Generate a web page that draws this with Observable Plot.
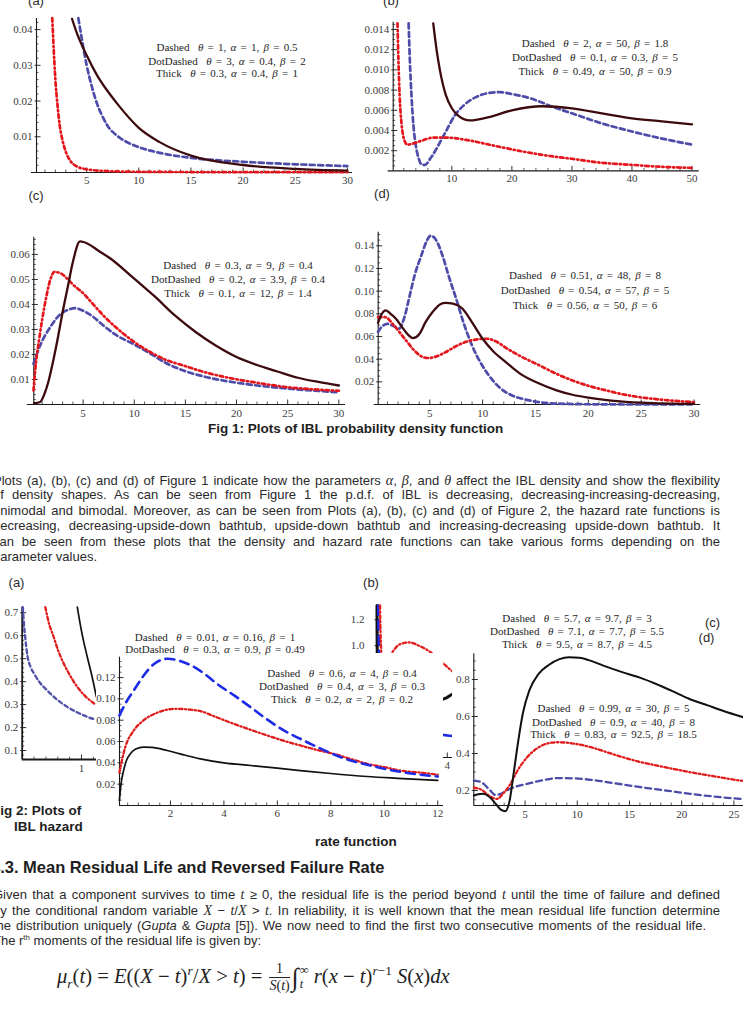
<!DOCTYPE html>
<html>
<head>
<meta charset="utf-8">
<script src="https://cdn.jsdelivr.net/npm/d3@7"></script>
<script src="https://cdn.jsdelivr.net/npm/@observablehq/plot@0.6"></script>
<style>
  html, body { margin: 0; padding: 0; background: #fff; }
  #page { position: relative; width: 743px; height: 1015px; overflow: hidden; background: #fff;
          font-family: "Liberation Sans", Arial, sans-serif; color: #262626; }
  .box { position: absolute; }
  .leg { position: absolute; transform: translate(-50%, -50%); white-space: nowrap;
         font-family: "Liberation Serif", "Times New Roman", serif; font-size: 11px; color: #1e1e1e; word-spacing: 1.5px; }
  .lab { position: absolute; transform: translate(-50%, -50%); font-size: 13px; color: #2a2a2a; white-space: nowrap; }
  .para { position: absolute; transform-origin: 0 50%; white-space: nowrap; color: #2a2a2a; }
  .para i.g { font-family: "Liberation Serif", serif; font-size: 1.08em; }
  .para sup { font-size: 0.6em; vertical-align: 0.6em; line-height: 0; }
  .cap { position: absolute; transform: translate(0, -50%); font-weight: bold; font-size: 13.5px; white-space: nowrap; color: #1e1e1e; }
  .head { position: absolute; transform: translate(0, -50%); font-weight: bold; font-size: 16.5px; white-space: nowrap; color: #1e1e1e; }
  #formula { position: absolute; transform: translate(0, -50%); white-space: nowrap;
             font-family: "Liberation Serif", serif; font-size: 20px; color: #222; }
  #formula sub, #formula sup { font-size: 0.65em; line-height: 0; }
  .frac { display: inline-block; vertical-align: middle; text-align: center; font-size: 0.68em; margin: 0 2px; }
  .frac .num { display: block; border-bottom: 1px solid #222; padding: 0 1px; line-height: 1.15em; }
  .frac .den { display: block; line-height: 1.2em; }
  .int { font-size: 1.25em; display: inline-block; vertical-align: middle; }
  .lims { display: inline-block; vertical-align: middle; font-size: 0.6em; line-height: 1.1em; margin-left: 1px; }
  .lims span { display: block; }
</style>
</head>
<body>
<div id="page"></div>
<script>
// ---------------- Fig. 1: IBL density curves, [x, f(x)] ----------------
// (a)
const fig1aDashed = [[4.2,0.0432],[4.5,0.038],[5,0.030],[5.5,0.024],[6,0.0192],[6.5,0.0158],[7,0.0131],[8,0.0101],[9,0.0083],[10,0.0071],[12,0.0055],[15,0.0041],[20,0.0030],[25,0.0023],[30,0.0018]];
const fig1aDotDashed = [[1.7,0.0432],[1.8,0.037],[1.9,0.031],[2.0,0.026],[2.2,0.019],[2.4,0.0135],[2.7,0.0088],[3.0,0.0058],[3.5,0.003],[4,0.0018],[5,0.0009],[7,0.0004],[10,0.0002],[20,0.0001],[30,0.0001]];
const fig1aThick = [[3.6,0.0430],[4,0.0395],[5,0.0328],[6,0.0272],[7,0.0228],[8,0.0190],[10,0.0125],[12,0.0085],[15,0.0047],[20,0.0021],[25,0.0010],[30,0.0005]];
// (b)
const fig1bDashed = [[2.8,0.0146],[3.0,0.011],[3.3,0.0072],[3.6,0.0045],[4,0.0025],[4.5,0.0012],[5,0.0006],[5.5,0.0006],[6.5,0.0013],[8,0.0028],[9,0.0039],[10.5,0.0055],[12,0.0065],[14,0.0073],[16,0.0077],[18,0.0078],[20,0.0076],[23,0.0072],[27,0.0063],[30,0.0057],[35,0.0047],[40,0.0039],[45,0.0032],[50,0.0026]];
const fig1bDotDashed = [[0.95,0.0146],[1.1,0.011],[1.3,0.0075],[1.6,0.0048],[2.0,0.0032],[2.6,0.0026],[3.5,0.0027],[5,0.003],[7,0.0033],[9,0.0033],[13,0.003],[17,0.0025],[22,0.0019],[26,0.0015],[30,0.0012],[35,0.0008],[40,0.0006],[45,0.0004],[50,0.0003]];
const fig1bThick = [[6.9,0.0146],[7.5,0.0118],[8,0.0100],[9,0.0075],[10,0.0062],[11,0.0055],[13,0.0050],[16,0.0053],[20,0.0060],[25,0.0064],[30,0.0062],[35,0.0057],[40,0.0052],[45,0.0049],[50,0.0046]];
// (c)
const fig1cDashed = [[0.15,0.0163],[0.8,0.0236],[1.8,0.031],[2.8,0.0362],[3.5,0.0378],[4.2,0.0385],[5,0.0375],[6,0.035],[7,0.0315],[8.3,0.0276],[10,0.024],[11.6,0.0203],[13,0.0168],[14.8,0.0136],[17,0.011],[19.7,0.0089],[22,0.0076],[24.6,0.0065],[27,0.0057],[30,0.0049]];
const fig1cDotDashed = [[0.15,0.0056],[0.4,0.017],[0.7,0.026],[1.0,0.034],[1.4,0.043],[1.8,0.050],[2.2,0.053],[2.8,0.0525],[3.4,0.0505],[4,0.048],[5,0.0445],[6,0.040],[7,0.0355],[8,0.0316],[10,0.025],[11.6,0.0209],[13,0.018],[14.8,0.0156],[17,0.0128],[19.7,0.0103],[22,0.0087],[24.6,0.0071],[27,0.0062],[30,0.0055]];
const fig1cThick = [[0.2,0.0005],[0.8,0.001],[1.2,0.004],[1.6,0.009],[2,0.016],[2.5,0.026],[3,0.037],[3.5,0.047],[4,0.057],[4.7,0.0652],[5.5,0.0642],[6.5,0.0615],[7.7,0.0583],[10,0.0503],[12,0.0432],[14,0.0355],[16,0.029],[18,0.0235],[20,0.019],[22,0.0158],[24,0.0132],[26,0.0107],[28,0.009],[30,0.0076]];
// (d)
const fig1dDashed = [[0.1,0.064],[0.5,0.069],[1.0,0.0712],[1.6,0.069],[2.1,0.067],[2.6,0.077],[3.1,0.096],[3.6,0.115],[4.2,0.1315],[4.7,0.144],[5.1,0.149],[5.6,0.145],[6.2,0.1315],[6.8,0.113],[7.5,0.0932],[8.2,0.072],[9.0,0.052],[9.8,0.037],[10.6,0.0256],[11.6,0.015],[12.8,0.0079],[14,0.0045],[15.4,0.002],[17,0.0008],[20,0.0002],[25,0],[30,0]];
const fig1dDotDashed = [[0.1,0.077],[0.8,0.077],[1.5,0.071],[2.2,0.063],[2.8,0.056],[3.5,0.048],[4.2,0.0425],[4.8,0.041],[5.5,0.042],[6.5,0.0462],[7.5,0.0515],[8.5,0.0555],[9.5,0.0575],[10.4,0.058],[11.3,0.0555],[12.2,0.050],[13.5,0.043],[15.4,0.0344],[17,0.027],[18.5,0.0212],[20,0.0165],[21.7,0.0124],[23,0.0095],[24.8,0.0065],[27,0.0042],[30,0.002]];
const fig1dThick = [[0.1,0.072],[0.4,0.079],[0.85,0.083],[1.3,0.080],[1.8,0.0757],[2.4,0.068],[3.0,0.061],[3.4,0.0585],[4.0,0.062],[4.6,0.0726],[5.3,0.082],[6.0,0.0885],[6.5,0.0897],[7.2,0.089],[8.1,0.0845],[9.0,0.0725],[10.0,0.058],[11,0.047],[12.2,0.0374],[13.5,0.0275],[15.4,0.0183],[17,0.0125],[18.5,0.0086],[20,0.006],[23,0.0027],[26,0.0012],[30,0.0005]];

// ---------------- Fig. 2: IBL hazard rate curves, [x, h(x)] ----------------
// (a) small inset panel
const fig2aDashed = [[0.01,0.724],[0.03,0.65],[0.05,0.595],[0.09,0.51],[0.14,0.465],[0.2,0.435],[0.3,0.395],[0.42,0.362],[0.55,0.33],[0.76,0.29],[0.9,0.27],[1.04,0.253],[1.24,0.234]];
const fig2aDotDashed = [[0.39,0.724],[0.45,0.655],[0.53,0.595],[0.6,0.54],[0.7,0.479],[0.8,0.43],[0.93,0.377],[1.05,0.34],[1.15,0.317],[1.24,0.30]];
const fig2aThick = [[0.93,0.724],[1.0,0.62],[1.1,0.505],[1.18,0.42],[1.25,0.335]];
// (b)
const fig2bDashed = [[0.1,1.31],[0.12,1.1],[0.15,0.94],[0.25,0.75],[1,0.5],[2,0.38],[3,0.33],[4,0.308],[4.75,0.3]];
const fig2bDotDashed = [[0.2,1.31],[0.23,1.1],[0.28,0.94],[0.45,0.86],[0.89,0.95],[1.3,1.01],[1.83,1.025],[2.4,1.0],[3.05,0.95],[3.5,0.9],[4.0,0.835],[4.4,0.79],[4.75,0.75]];
const fig2bThick = [[0.03,1.31],[0.035,1.1],[0.045,0.94],[0.1,0.82],[0.3,0.72],[1,0.6],[2,0.56],[3,0.57],[3.95,0.598],[4.3,0.628],[4.75,0.66]];
// large middle panel
const fig2mDashed = [[0.09,0.0844],[0.3,0.095],[0.63,0.108],[1.0,0.122],[1.4,0.133],[1.88,0.1376],[2.3,0.136],[2.8,0.131],[3.3,0.123],[3.75,0.114],[4.4,0.103],[5.0,0.0922],[5.6,0.081],[6.24,0.0704],[6.9,0.062],[7.5,0.0547],[8.1,0.048],[8.74,0.0422],[9.4,0.038],[10,0.0344],[11,0.030],[12,0.0272]];
const fig2mDotDashed = [[0.09,0.031],[0.3,0.054],[0.63,0.0704],[1.0,0.08],[1.5,0.087],[2.19,0.0907],[2.7,0.090],[3.12,0.0885],[3.7,0.083],[4.37,0.0766],[5,0.071],[5.62,0.0657],[6.2,0.061],[6.86,0.0563],[7.5,0.052],[8.1,0.0485],[8.7,0.044],[9.36,0.0391],[10,0.036],[10.6,0.0328],[11.3,0.031],[12,0.029]];
const fig2mThick = [[0.09,0.0047],[0.15,0.02],[0.25,0.033],[0.35,0.042],[0.5,0.0485],[0.7,0.053],[1.0,0.0547],[1.3,0.0545],[1.88,0.0516],[2.5,0.0475],[3.12,0.0438],[4,0.040],[5,0.0375],[6,0.035],[6.86,0.0328],[8,0.030],[9.36,0.0272],[10.5,0.0255],[12,0.0235]];
// (d)
const fig2dDashed = [[0.1,0.254],[0.8,0.245],[1.5,0.21],[2.2,0.175],[2.8,0.185],[3.4,0.205],[4.2,0.222],[5.2,0.236],[6.5,0.253],[8.1,0.267],[9.5,0.266],[11.3,0.258],[13.5,0.24],[16.1,0.218],[18.5,0.2],[20.8,0.182],[23,0.168],[25.6,0.155],[25.9,0.154]];
const fig2dDotDashed = [[0.1,0.215],[0.8,0.205],[1.6,0.17],[2.3,0.155],[3.0,0.19],[3.6,0.236],[4.3,0.31],[5.2,0.38],[6.2,0.43],[7.2,0.455],[8.1,0.461],[9.5,0.455],[11.3,0.434],[13.5,0.395],[16.1,0.353],[18.5,0.325],[20.8,0.299],[23,0.278],[25.6,0.254],[25.9,0.252]];
const fig2dThick = [[0.1,0.173],[0.5,0.18],[1.0,0.182],[1.6,0.165],[2.2,0.128],[2.7,0.095],[3.1,0.088],[3.5,0.14],[3.9,0.29],[4.3,0.45],[4.8,0.62],[5.4,0.74],[6.3,0.83],[7.3,0.88],[8.3,0.91],[9.2,0.92],[10.2,0.918],[11.1,0.905],[12.5,0.875],[14.3,0.84],[16,0.81],[17.5,0.777],[19,0.74],[20.7,0.696],[22.5,0.66],[24,0.63],[25.9,0.596]];

// ---------------- tick labels ----------------
const fig1aXTicks = ["5","10","15","20","25","30"];
const fig1aYTicks = ["0.01","0.02","0.03","0.04"];
const fig1bXTicks = ["10","20","30","40","50"];
const fig1bYTicks = ["0.002","0.004","0.006","0.008","0.010","0.012","0.014"];
const fig1cXTicks = ["5","10","15","20","25","30"];
const fig1cYTicks = ["0.01","0.02","0.03","0.04","0.05","0.06"];
const fig1dXTicks = ["5","10","15","20","25","30"];
const fig1dYTicks = ["0.02","0.04","0.06","0.08","0.10","0.12","0.14"];
const fig2aXTicks = ["1"];
const fig2aYTicks = ["0.1","0.2","0.3","0.4","0.5","0.6","0.7"];
const fig2bXTicks = ["1","2","3","4"];
const fig2bYTicks = ["1.0","1.2"];
const fig2mXTicks = ["2","4","6","8","10","12"];
const fig2mYTicks = ["0.02","0.04","0.06","0.08","0.10","0.12"];
const fig2dXTicks = ["5","10","15","20","25"];
const fig2dYTicks = ["0.2","0.4","0.6","0.8"];

// ---------------- legend parameters: [style, θ, α, β] ----------------
const fig1aParams = [["Dashed",1,1,0.5],["DotDashed",3,0.4,2],["Thick",0.3,0.4,1]];
const fig1bParams = [["Dashed",2,50,1.8],["DotDashed",0.1,0.3,5],["Thick",0.49,50,0.9]];
const fig1cParams = [["Dashed",0.3,9,0.4],["DotDashed",0.2,3.9,0.4],["Thick",0.1,12,1.4]];
const fig1dParams = [["Dashed",0.51,48,8],["DotDashed",0.54,57,5],["Thick",0.56,50,6]];
const fig2mParams = [["Dashed",0.01,0.16,1],["DotDashed",0.3,0.9,0.49]];
const fig2bParams = [["Dashed",0.6,4,0.4],["DotDashed",0.4,3,0.3],["Thick",0.2,2,0.2]];
const fig2cParams = [["Dashed",5.7,9.7,3],["DotDashed",7.1,7.7,5.5],["Thick",9.5,8.7,4.5]];
const fig2dParams = [["Dashed",0.99,30,5],["DotDashed",0.9,40,8],["Thick",0.83,92.5,18.5]];

// ---------------- drawing ----------------
const SERIF = "Liberation Serif, Times New Roman, serif";
const page = document.getElementById("page");

const lineStyles = {
  thickBrown: {stroke: "#3d0b0e", strokeWidth: 2.3},
  dashedPurple: {stroke: "#4d4da9", strokeWidth: 2.7, strokeDasharray: "5,3.5"},
  dotDashRed: {stroke: "#e3161c", strokeWidth: 2.7, strokeDasharray: "3.5,3,1.2,3"},
  thickBlack: {stroke: "#111", strokeWidth: 2},
  thinBlack: {stroke: "#111", strokeWidth: 1.7},
  dashedBlue: {stroke: "#1e2be6", strokeWidth: 2.6, strokeDasharray: "9,6"},
  dotDashRedThin: {stroke: "#e01b1b", strokeWidth: 2.3, strokeDasharray: "3.5,2.5,1.2,2.5"},
  dashedPurpleShort: {stroke: "#5151aa", strokeWidth: 2.3, strokeDasharray: "4,3"},
  dashedPurpleLong: {stroke: "#4b4ba8", strokeWidth: 2.3, strokeDasharray: "6,4"}
};

function stepsIn(lo, hi, s) {
  const out = [];
  for (let i = Math.ceil(lo / s - 1e-9); i * s <= hi + 1e-9; i++) out.push(+(i * s).toFixed(6));
  return out;
}

// One Mathematica-style panel: axes crossing at the lower-left corner of the frame,
// inward major/minor ticks, serif tick labels and the curves.
function panel(o) {
  const fw = o.width - o.ml - o.mr, fh = o.height - o.mt - o.mb;
  const [x0, x1] = o.x, [y0, y1] = o.y;
  const ux = (x1 - x0) / fw, uy = (y1 - y0) / fh;
  const xMaj = o.xLabels.map(Number), yMaj = o.yLabels.map(Number);
  const notMajor = arr => v => !arr.some(a => Math.abs(a - v) < 1e-9);
  const xMin = stepsIn(x0, x1, o.xStep).filter(notMajor(xMaj)).filter(v => v > x0);
  const yMin = stepsIn(y0, y1, o.yStep).filter(notMajor(yMaj)).filter(v => v > y0);
  const ax = "#1a1a1a";
  const aw = o.axisW || 1.1;
  const marks = [
    Plot.ruleY([y0], {x1: () => x0 - (o.xExt || 0) * ux, x2: () => x1, stroke: ax, strokeWidth: aw}),
    Plot.ruleX([x0], {y1: () => y0, y2: () => y1, stroke: ax, strokeWidth: aw}),
    Plot.ruleX(xMin, {x: d => d, y1: () => y0, y2: () => y0 + 2.5 * uy, stroke: ax, strokeWidth: 0.7}),
    Plot.ruleX(xMaj, {x: d => d, y1: () => y0, y2: () => y0 + 4.5 * uy, stroke: ax, strokeWidth: 0.9}),
    Plot.ruleY(yMin, {y: d => d, x1: () => x0, x2: () => x0 + 2.5 * ux, stroke: ax, strokeWidth: 0.7}),
    Plot.ruleY(yMaj, {y: d => d, x1: () => x0 - 1.5 * ux, x2: () => x0 + 4.5 * ux, stroke: ax, strokeWidth: 0.9}),
    Plot.text(o.xLabels, {x: d => +d, y: () => y0, text: d => d, dy: o.xLabelDy || 8.5,
      fontFamily: SERIF, fontSize: 11, fill: "#3c3c3c"}),
    Plot.text(o.yLabels, {x: () => x0, y: d => +d, text: d => d, dx: -(o.yLabelGap || 4), textAnchor: "end",
      fontFamily: SERIF, fontSize: 11, fill: "#3c3c3c"}),
    ...o.series.map(s => Plot.line(s.data, {x: d => d[0], y: d => d[1], curve: "monotone-x", ...s.style}))
  ];
  const svg = Plot.plot({
    width: o.width, height: o.height,
    marginLeft: o.ml, marginRight: o.mr, marginTop: o.mt, marginBottom: o.mb,
    x: {domain: o.x, axis: null},
    y: {domain: o.y, axis: null},
    style: {background: o.bg || "transparent", overflow: "visible"},
    marks
  });
  const holder = document.createElement("div");
  holder.className = "box";
  holder.style.left = o.left + "px";
  holder.style.top = o.top + "px";
  holder.appendChild(svg);
  page.appendChild(holder);
}

function div(cls, left, top, html) {
  const d = document.createElement("div");
  d.className = cls;
  d.style.left = left + "px";
  d.style.top = top + "px";
  d.innerHTML = html;
  page.appendChild(d);
  return d;
}

function legend(rows, cx, ys) {
  rows.forEach((r, i) => div("leg", cx, ys[i],
    `${r[0]}&nbsp;&nbsp;<i>θ</i> = ${r[1]}, <i>α</i> = ${r[2]}, <i>β</i> = ${r[3]}`));
}

// ---- Figure 1 ----
panel({left: 0, top: 0, width: 360, height: 190, ml: 36, mr: 8, mt: 18, mb: 18,
  x: [0.19, 30.49], y: [0, 0.0431], xStep: 1, yStep: 0.002, xExt: 5, xLabelDy: 7.5,
  xLabels: fig1aXTicks, yLabels: fig1aYTicks,
  series: [{data: fig1aDashed, style: lineStyles.dashedPurple},
           {data: fig1aDotDashed, style: lineStyles.dotDashRed},
           {data: fig1aThick, style: lineStyles.thickBrown}]});
panel({left: 355, top: 0, width: 388, height: 190, ml: 37.7, mr: 44.3, mt: 21.7, mb: 19.6,
  x: [0.23, 51.2], y: [0, 0.01472], xStep: 2, yStep: 0.0005, xExt: 5, xLabelDy: 8,
  xLabels: fig1bXTicks, yLabels: fig1bYTicks,
  series: [{data: fig1bDashed, style: lineStyles.dashedPurple},
           {data: fig1bDotDashed, style: lineStyles.dotDashRed},
           {data: fig1bThick, style: lineStyles.thickBrown}]});
panel({left: 0, top: 220, width: 360, height: 205, ml: 33.3, mr: 15, mt: 16.7, mb: 21,
  x: [0.18, 30.65], y: [0, 0.0669], xStep: 1, yStep: 0.002, xExt: 6.5, xLabelDy: 8.5,
  xLabels: fig1cXTicks, yLabels: fig1cYTicks,
  series: [{data: fig1cDashed, style: lineStyles.dashedPurple},
           {data: fig1cDotDashed, style: lineStyles.dotDashRed},
           {data: fig1cThick, style: lineStyles.thickBrown}]});
panel({left: 340, top: 220, width: 403, height: 205, ml: 37.7, mr: 42.7, mt: 11.7, mb: 21,
  x: [0.12, 30.64], y: [0, 0.152], xStep: 1, yStep: 0.005, xExt: 4, xLabelDy: 8.5,
  xLabels: fig1dXTicks, yLabels: fig1dYTicks,
  series: [{data: fig1dDashed, style: lineStyles.dashedPurple},
           {data: fig1dDotDashed, style: lineStyles.dotDashRed},
           {data: fig1dThick, style: lineStyles.thickBrown}]});

legend(fig1aParams, 227, [47, 61, 73]);
legend(fig1bParams, 595, [43, 57, 71]);
legend(fig1cParams, 238, [264.5, 278.5, 293]);
legend(fig1dParams, 585, [275, 290, 304.5]);

div("lab", 36, 0, "(a)");
div("lab", 391, 0, "(b)");
div("lab", 36, 195, "(c)");
div("lab", 382, 193, "(d)");
div("cap", 208, 428, "Fig 1: Plots of IBL probability density function");

// ---- body text: each line justified to the text block ----
const para1 = [
  'Plots (a), (b), (c) and (d) of Figure 1 indicate how the parameters <i class="g">α</i>, <i class="g">β</i>, and <i class="g">θ</i> affect the IBL density and show the flexibility',
  'of density shapes. As can be seen from Figure 1 the p.d.f. of IBL is decreasing, decreasing-increasing-decreasing,',
  'unimodal and bimodal. Moreover, as can be seen from Plots (a), (b), (c) and (d) of Figure 2, the hazard rate functions is',
  'decreasing, decreasing-upside-down bathtub, upside-down bathtub and increasing-decreasing upside-down bathtub. It',
  'can be seen from these plots that the density and hazard rate functions can take various forms depending on the',
  'parameter values.'
];
const para1Y = [479.5, 494.5, 510, 525.5, 541, 556.5];
const para2 = [
  'Given that a component survives to time <i class="g">t</i> ≥ 0, the residual life is the period beyond <i class="g">t</i> until the time of failure and defined',
  'by the conditional random variable <i class="g">X</i> − <i class="g">t</i>/<i class="g">X</i> &gt; <i class="g">t</i>. In reliability, it is well known that the mean residual life function determine',
  'the distribution uniquely (<i>Gupta</i> &amp; <i>Gupta</i> [5]). We now need to find the first two consecutive moments of the residual life.',
  'The r<sup>th</sup> moments of the residual life is given by:'
];
const para2Y = [893.3, 909, 925, 940.7];
const para2W = [727, 727, 713, 0];

const BODY = 13;
let squeeze = 1;
function textLine(html, y) {
  const el = div("para", -7, y - BODY / 2, html);
  el.style.fontSize = BODY + "px";
  el.style.lineHeight = "1";
  el.style.transform = `scaleX(${squeeze})`;
  return el;
}
function justify(el, target) {
  const natural = el.getBoundingClientRect().width;
  const spaces = (el.textContent.match(/ /g) || []).length;
  if (spaces) el.style.wordSpacing = ((target - natural) / spaces / squeeze) + "px";
}
// horizontal squeeze taken from the first line, so words keep near-normal spacing
const probe = textLine(para1[0], 0);
squeeze = Math.min(1, 718 / probe.getBoundingClientRect().width);
probe.remove();

para1.forEach((t, i) => {
  const el = textLine(t, para1Y[i]);
  if (i < para1.length - 1) justify(el, 727);
});

// ---- Figure 2 ----
panel({left: 0, top: 595, width: 110, height: 185, ml: 21.7, mr: 13.3, mt: 11.7, mb: 21,
  x: [0, 1.265], y: [0.061, 0.724], xStep: 0.2, yStep: 0.02, axisW: 1.8, xLabelDy: 9,
  xLabels: fig2aXTicks, yLabels: fig2aYTicks,
  series: [{data: fig2aDashed, style: lineStyles.dashedPurpleShort},
           {data: fig2aDotDashed, style: lineStyles.dotDashRedThin},
           {data: fig2aThick, style: lineStyles.thinBlack}]});
panel({left: 340, top: 595, width: 120, height: 175, ml: 36, mr: 0, mt: 10, mb: 13,
  x: [0, 4.746], y: [0.138, 1.31], xStep: 1, yStep: 0.05, axisW: 1.2, xLabelDy: 8, yLabelGap: 12,
  xLabels: fig2bXTicks, yLabels: fig2bYTicks,
  series: [{data: fig2bThick, style: {stroke: "#111", strokeWidth: 3}},
           {data: fig2bDashed, style: lineStyles.dashedBlue},
           {data: fig2bDotDashed, style: lineStyles.dotDashRedThin}]});
panel({left: 96, top: 653, width: 347, height: 175, ml: 23, mr: 0, mt: 3.7, mb: 23, bg: "#fff",
  x: [0.094, 12.215], y: [0, 0.1391], xStep: 0.4, yStep: 0.005, axisW: 1.1, xLabelDy: 8,
  xLabels: fig2mXTicks, yLabels: fig2mYTicks,
  series: [{data: fig2mThick, style: lineStyles.thinBlack},
           {data: fig2mDotDashed, style: lineStyles.dotDashRedThin},
           {data: fig2mDashed, style: lineStyles.dashedBlue}]});
panel({left: 452, top: 648, width: 291, height: 180, ml: 21.3, mr: 0, mt: 5.3, mb: 23, bg: "#fff",
  x: [0.09, 25.92], y: [0.119, 0.939], xStep: 1, yStep: 0.05, axisW: 1.1, xLabelDy: 9,
  xLabels: fig2dXTicks, yLabels: fig2dYTicks,
  series: [{data: fig2dDashed, style: lineStyles.dashedPurpleLong},
           {data: fig2dDotDashed, style: lineStyles.dotDashRedThin},
           {data: fig2dThick, style: lineStyles.thickBlack}]});

legend(fig2mParams, 215, [636.7, 649.3]);
legend(fig2bParams, 342, [673, 686, 699]);
legend(fig2cParams, 577, [618.3, 631, 644]);
legend(fig2dParams, 613.5, [708.3, 722.3, 734.3]);

div("lab", 16.5, 582, "(a)");
div("lab", 371, 582, "(b)");
div("lab", 712.5, 621.5, "(c)");
div("lab", 706.5, 636.5, "(d)");

div("cap", -8, 810, "Fig 2: Plots of");
div("cap", 14, 825.5, "IBL hazard");
div("cap", 315, 840.7, "rate function");

div("head", -9, 866.7, "4.3. Mean Residual Life and Reversed Failure Rate");

para2.forEach((t, i) => {
  const el = textLine(t, para2Y[i]);
  if (para2W[i]) justify(el, para2W[i]);
});

const f = div("", 57, 978,
  '<i>μ</i><sub><i>r</i></sub>(<i>t</i>) = <i>E</i>((<i>X</i> − <i>t</i>)<sup><i>r</i></sup>/<i>X</i> &gt; <i>t</i>) = ' +
  '<span class="frac"><span class="num">1</span><span class="den"><i>S</i>(<i>t</i>)</span></span>' +
  '<span class="int">∫</span><span class="lims"><span>∞</span><span><i>t</i></span></span> ' +
  '<i>r</i>(<i>x</i> − <i>t</i>)<sup><i>r</i>−1</sup> <i>S</i>(<i>x</i>)<i>dx</i>');
f.id = "formula";
// the equation runs from x = 57 to about x = 450
const fw0 = f.getBoundingClientRect().width;
f.style.fontSize = (20 * 393 / fw0) + "px";
</script>
</body>
</html>
